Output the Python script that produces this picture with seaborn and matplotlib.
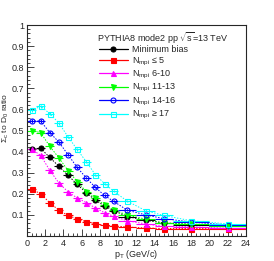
import numpy as np
import pandas as pd
import matplotlib
matplotlib.use("Agg")
import matplotlib.pyplot as plt
from matplotlib.lines import Line2D
from matplotlib.ticker import MultipleLocator
import seaborn as sns

# pT bins (GeV/c)
pt_lo = [0, 1, 2, 3, 4, 5, 6, 7, 8, 9, 10, 12, 14, 16, 20]
pt_hi = [1, 2, 3, 4, 5, 6, 7, 8, 9, 10, 12, 14, 16, 20, 24]
pt = [0.5, 1.5, 2.5, 3.5, 4.5, 5.5, 6.5, 7.5, 8.5, 9.5, 11, 13, 15, 18, 22]

# Sigma_c / D0 ratio
min_bias = [0.41, 0.415, 0.372, 0.33, 0.287, 0.245, 0.205, 0.17, 0.142, 0.12, 0.092, 0.074, 0.062, 0.054, 0.045]
nmpi_le5 = [0.222, 0.2, 0.157, 0.122, 0.097, 0.081, 0.067, 0.058, 0.05, 0.048, 0.042, 0.038, 0.035, 0.035, 0.034]
nmpi_6_10 = [0.412, 0.382, 0.311, 0.251, 0.209, 0.18, 0.158, 0.133, 0.11, 0.093, 0.072, 0.057, 0.045, 0.043, 0.036]
nmpi_11_13 = [0.5, 0.49, 0.425, 0.37, 0.31, 0.258, 0.21, 0.178, 0.148, 0.125, 0.098, 0.08, 0.06, 0.057, 0.046]
nmpi_14_16 = [0.545, 0.545, 0.49, 0.445, 0.385, 0.325, 0.275, 0.23, 0.192, 0.164, 0.122, 0.1, 0.082, 0.066, 0.052]
nmpi_ge17 = [0.595, 0.615, 0.58, 0.535, 0.47, 0.41, 0.352, 0.29, 0.248, 0.212, 0.165, 0.12, 0.097, 0.072, 0.057]
stat_err = [0.008, 0.008, 0.007, 0.007, 0.006, 0.006, 0.005, 0.005, 0.005, 0.005, 0.004, 0.004, 0.004, 0.004, 0.004]

labels = ["Minimum bias", "N$_{\\mathregular{mpi}}$ \u2264 5", "N$_{\\mathregular{mpi}}$ 6-10",
          "N$_{\\mathregular{mpi}}$ 11-13", "N$_{\\mathregular{mpi}}$ 14-16", "N$_{\\mathregular{mpi}}$ \u2265 17"]
series = [min_bias, nmpi_le5, nmpi_6_10, nmpi_11_13, nmpi_14_16, nmpi_ge17]
colors = ["#000000", "#ff0000", "#ff00ff", "#00ff00", "#0000ff", "#00ffff"]
markers = ["o", "s", "^", "v", "o", "s"]
filled = [True, True, True, True, False, False]

sns.set_theme(style="ticks")
plt.rcParams['font.family'] = ['Liberation Sans', 'DejaVu Sans']
plt.rcParams['mathtext.fontset'] = 'custom'
plt.rcParams['mathtext.rm'] = 'Liberation Sans'

df = pd.concat([pd.DataFrame({"pt": pt, "ratio": s, "sample": lab}) for s, lab in zip(series, labels)])

fig = plt.figure(figsize=(2.74, 2.61), dpi=100)
ax = fig.add_axes([0.0985, 0.096, 0.799, 0.808])

sns.lineplot(data=df, x="pt", y="ratio", hue="sample", palette=colors, legend=False,
             ax=ax, linewidth=0.7, estimator=None, sort=False)
for line in ax.lines:
    line.set_linestyle((0, (1.5, 1.5)))

xerr_lo = np.array(pt) - np.array(pt_lo)
xerr_hi = np.array(pt_hi) - np.array(pt)
handles = []
for s, lab, c, m, f in zip(series, labels, colors, markers, filled):
    ax.errorbar(pt, s, xerr=[xerr_lo, xerr_hi], yerr=stat_err, fmt=m, color=c,
                mfc=c if f else "none", mec=c, ms=3.6, mew=0.8, elinewidth=0.8, capsize=0)
    handles.append(Line2D([], [], color=c, marker=m, mfc=c if f else "none", mec=c,
                          ms=3.6, mew=0.8, lw=0.9))

ax.set_xlim(0, 24)
ax.set_ylim(0, 1)
ax.xaxis.set_major_locator(MultipleLocator(2))
ax.xaxis.set_minor_locator(MultipleLocator(0.5))
ax.yaxis.set_major_locator(MultipleLocator(0.1))
ax.yaxis.set_minor_locator(MultipleLocator(0.02))
ax.set_yticks([0.1, 0.2, 0.3, 0.4, 0.5, 0.6, 0.7, 0.8, 0.9, 1.0])
ax.set_yticklabels(["0.1", "0.2", "0.3", "0.4", "0.5", "0.6", "0.7", "0.8", "0.9", "1"])
ax.tick_params(axis="both", which="both", direction="in", labelsize=6.5, width=0.6, pad=2)
ax.tick_params(axis="both", which="major", length=5)
ax.tick_params(axis="both", which="minor", length=2.5)
for sp in ax.spines.values():
    sp.set_linewidth(0.8)

ax.set_xlabel("p$_{\\mathregular{T}}$ (GeV/c)", fontsize=6.5, labelpad=0)
ax.set_ylabel("$\\Sigma_{\\mathregular{c}}$ to D$_{\\mathregular{0}}$ ratio", fontsize=6)
ax.yaxis.set_label_coords(-0.075, 0.56)

ax.text(0.32, 0.975, "PYTHIA8 mode2 pp $\\sqrt{\\mathregular{s}}$=13 TeV", transform=ax.transAxes,
        fontsize=6.5, va="top", ha="left")
ax.legend(handles, labels, loc="upper left", bbox_to_anchor=(0.3, 0.935), frameon=False,
          fontsize=6.5, handlelength=3.2, handletextpad=0.5, labelspacing=0.15, borderpad=0.2)

fig.savefig("out.png", dpi=100)
